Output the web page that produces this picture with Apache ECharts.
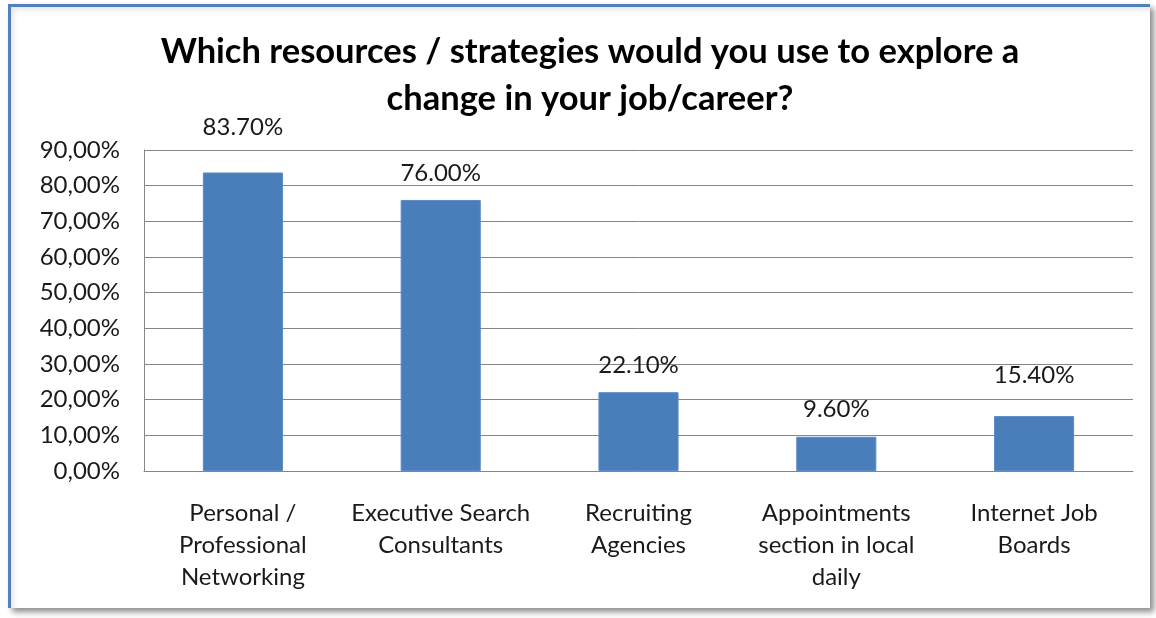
<!DOCTYPE html>
<html>
<head>
<meta charset="utf-8">
<script src="https://cdn.jsdelivr.net/npm/echarts@6/dist/echarts.min.js"></script>
<style>
  html, body { margin: 0; padding: 0; background: #ffffff; }
  body { width: 1156px; height: 618px; position: relative; overflow: hidden; }
  #frame {
    position: absolute; left: 8px; top: 4px; width: 1139px; height: 601px;
    border-top: 3px solid #4f81bd; border-left: 3px solid #4f81bd;
    box-shadow: 4px 4px 6px rgba(0,0,0,0.45), inset 5px 5px 6px -3px rgba(0,0,0,0.12);
    background: #ffffff;
  }
  #chart { position: absolute; left: 0; top: 0; width: 1156px; height: 618px; }
</style>
</head>
<body>
<div id="frame"></div>
<div id="chart"></div>
<script>
// Survey: resources / strategies for exploring a job or career change
const categories = [
  'Personal /\nProfessional\nNetworking',
  'Executive Search\nConsultants',
  'Recruiting\nAgencies',
  'Appointments\nsection in local\ndaily',
  'Internet Job\nBoards'
];
const shares = [83.7, 76.0, 22.1, 9.6, 15.4];   // percent of respondents
const yTicks = { min: 0, max: 90, step: 10 };

// extra lift (px) for the value labels that sit higher above their bars
const labelLift = [18, 0, 0, 0, 14];

const FONT = 'Lato, "Open Sans", sans-serif';
const TEXT = '#1a1a1a';

const chart = echarts.init(document.getElementById('chart'), null, { renderer: 'canvas' });
chart.setOption({
  animation: false,
  title: {
    text: 'Which resources / strategies would you use to explore a\nchange in your job/career?',
    left: 585, top: 23, textAlign: 'center',
    textStyle: { fontFamily: FONT, fontWeight: 'bold', fontSize: 34.5, lineHeight: 47, color: '#000000' }
  },
  grid: { left: 144, right: 23, top: 150, bottom: 147, containLabel: false },
  xAxis: {
    type: 'category',
    data: categories,
    axisLine: { show: true, lineStyle: { color: '#868686', width: 1 } },
    axisTick: { show: false },
    axisLabel: {
      interval: 0, margin: 26, color: TEXT,
      fontFamily: FONT, fontSize: 24, lineHeight: 32
    }
  },
  yAxis: {
    type: 'value',
    min: yTicks.min, max: yTicks.max, interval: yTicks.step,
    axisLine: { show: true, lineStyle: { color: '#868686', width: 1 } },
    axisTick: { show: false },
    splitLine: { show: true, lineStyle: { color: '#868686', width: 1 } },
    axisLabel: {
      margin: 24, color: TEXT, fontFamily: FONT, fontSize: 24,
      formatter: v => v.toFixed(2).replace('.', ',') + '%'
    }
  },
  series: [{
    type: 'bar',
    barWidth: '40.5%',
    data: shares.map((v, i) => ({
      value: v,
      label: { distance: 15 + labelLift[i] }
    })),
    itemStyle: { color: '#4a7ebb', borderColor: '#5b8cc6', borderWidth: 1 },
    label: {
      show: true, position: 'top', color: TEXT,
      fontFamily: FONT, fontSize: 24,
      formatter: p => p.value.toFixed(2) + '%'
    }
  }]
});
</script>
</body>
</html>
